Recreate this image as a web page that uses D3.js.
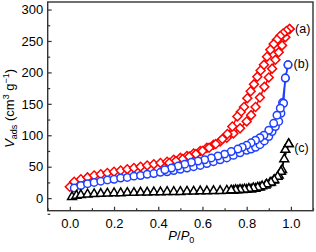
<!DOCTYPE html>
<html>
<head>
<meta charset="utf-8">
<script src="https://cdn.jsdelivr.net/npm/d3@7"></script>
<style>
  body { margin: 0; background: #fff; }
  svg text { font-family: Arial, 'Liberation Sans', sans-serif; fill: #000; }
</style>
</head>
<body>
<svg id="chart"></svg>
<script>
// sample (a): adsorption + desorption branches
const aAdsP = [0.00, 0.02, 0.05, 0.08, 0.11, 0.14, 0.17, 0.20, 0.23, 0.26, 0.29, 0.32, 0.35, 0.38, 0.41, 0.44, 0.47, 0.50, 0.53, 0.56, 0.59, 0.62, 0.65, 0.68, 0.71, 0.74, 0.77, 0.80, 0.82, 0.84, 0.86, 0.88, 0.90, 0.915, 0.93, 0.945, 0.96, 0.975, 0.994];
const aAdsV = [18, 26, 30, 33, 36, 38, 40, 42, 44, 46, 48, 50, 52, 54, 56, 58, 61, 64, 67, 71, 75, 80, 85, 90, 96, 103, 111, 122, 132, 145, 160, 177, 192, 206, 220, 232, 243, 256, 269];
const aDesP = [0.994, 0.98, 0.965, 0.952, 0.937, 0.922, 0.907, 0.892, 0.878, 0.863, 0.848, 0.833, 0.818, 0.803, 0.788, 0.773, 0.758, 0.735, 0.713, 0.69, 0.66, 0.63, 0.60, 0.57, 0.54, 0.51, 0.48, 0.45];
const aDesV = [269, 266, 262, 258, 252, 245, 236, 225, 212, 203, 193, 181, 170, 159, 145, 137, 130, 114, 102, 94, 86, 80, 75, 70, 66, 62, 59, 56];

// sample (b)
const bAdsP = [0.02, 0.05, 0.08, 0.11, 0.14, 0.17, 0.20, 0.23, 0.26, 0.29, 0.32, 0.35, 0.38, 0.41, 0.44, 0.47, 0.50, 0.53, 0.56, 0.59, 0.62, 0.65, 0.68, 0.71, 0.74, 0.77, 0.80, 0.82, 0.84, 0.86, 0.88, 0.90, 0.915, 0.93, 0.945, 0.955, 0.962, 0.975, 0.987];
const bAdsV = [16, 20, 23, 25, 27, 29, 30, 32, 33, 35, 36, 38, 39, 41, 42, 44, 46, 48, 50, 52, 55, 58, 61, 64, 68, 72, 76, 78, 81, 85, 91, 98, 106, 114, 122, 135, 152, 191, 212];
const bDesP = [0.987, 0.975, 0.967, 0.952, 0.937, 0.922, 0.90, 0.878, 0.86, 0.84, 0.82, 0.80, 0.78, 0.76, 0.73, 0.70, 0.67, 0.64, 0.61, 0.58, 0.55, 0.52, 0.49, 0.46, 0.43];
const bDesV = [212, 191, 151, 143, 132, 119, 108, 100, 96, 92, 88, 84, 81, 78, 74, 70, 67, 64, 61, 59, 57, 54, 51, 48, 45];

// sample (c)
const cAdsP = [0.01, 0.03, 0.05, 0.08, 0.11, 0.14, 0.17, 0.20, 0.23, 0.26, 0.29, 0.32, 0.35, 0.38, 0.41, 0.44, 0.47, 0.50, 0.53, 0.56, 0.59, 0.62, 0.65, 0.68, 0.71, 0.74, 0.76, 0.78, 0.80, 0.82, 0.84, 0.86, 0.885, 0.905, 0.922, 0.945, 0.96, 0.975, 0.99];
const cAdsV = [2, 4, 5, 6, 6.5, 7, 7.5, 8, 8, 8.5, 8.5, 9, 9, 9.5, 9.5, 10, 10, 10, 10.5, 10.5, 11, 11, 11.5, 11.5, 12, 12, 12.5, 13, 13.5, 14, 15, 17, 20, 24, 28, 36, 45, 77, 86];
const cDesP = [0.99, 0.97, 0.955, 0.94, 0.925, 0.91, 0.89, 0.87, 0.85, 0.83, 0.81, 0.79, 0.77, 0.75, 0.73];
const cDesV = [86, 62, 42, 34, 29, 25, 22, 19, 17, 16, 15, 14, 13.5, 13, 12.5];

const seriesLabels = ['(a)', '(b)', '(c)'];
const seriesColors = ['#ff0000', '#1f3fff', '#000000'];
const xTicks = [0.0, 0.2, 0.4, 0.6, 0.8, 1.0];
const xMinorTicks = [-0.1, 0.1, 0.3, 0.5, 0.7, 0.9, 1.1];
const yTicks = [0, 50, 100, 150, 200, 250, 300];
const yMinorTicks = [-25, 25, 75, 125, 175, 225, 275];

class IsothermPlot {

  constructor(_config, data) {
    this.config = {
      parentElement: _config.parentElement,
      containerWidth: 316,
      containerHeight: 252,
      margin: {top: 2, right: 3, bottom: 41.3, left: 47.7}
    }
    this.data = data;
    this.initVis();
  }

  initVis() {
    let vis = this;

    vis.svg = d3.select(vis.config.parentElement)
        .attr('width', vis.config.containerWidth)
        .attr('height', vis.config.containerHeight);

    vis.chart = vis.svg.append('g')
        .attr('transform', `translate(${vis.config.margin.left},${vis.config.margin.top})`);

    vis.width = vis.config.containerWidth - vis.config.margin.left - vis.config.margin.right;
    vis.height = vis.config.containerHeight - vis.config.margin.top - vis.config.margin.bottom;

    vis.xScale = d3.scaleLinear()
        .domain([-0.1, 1.1])
        .range([0, vis.width]);
    vis.yScale = d3.scaleLinear()
        .domain([-20, 312])
        .range([vis.height, 0]);

    // ticks point inward, like the original
    vis.xAxis = d3.axisBottom(vis.xScale)
        .tickValues(xTicks)
        .tickSize(-4)
        .tickPadding(8.5)
        .tickFormat(d3.format('.1f'));
    vis.xMinor = d3.axisBottom(vis.xScale)
        .tickValues(xMinorTicks)
        .tickSize(-2.5)
        .tickFormat('');
    vis.yAxis = d3.axisLeft(vis.yScale)
        .tickValues(yTicks)
        .tickSize(-4)
        .tickPadding(4.4)
        .tickFormat(d3.format('d'));
    vis.yMinor = d3.axisLeft(vis.yScale)
        .tickValues(yMinorTicks)
        .tickSize(-2.5)
        .tickFormat('');

    vis.xAxisG = vis.chart.append('g')
        .attr('class', 'axis x-axis')
        .attr('transform', `translate(0,${vis.height})`);
    vis.xMinorG = vis.chart.append('g')
        .attr('transform', `translate(0,${vis.height})`);
    vis.yAxisG = vis.chart.append('g')
        .attr('class', 'axis y-axis');
    vis.yMinorG = vis.chart.append('g');

    // axis titles
    vis.yLabel = vis.svg.append('text')
        .attr('text-anchor', 'middle')
        .attr('font-size', '13px')
        .attr('transform', `translate(13.5, ${vis.config.margin.top + vis.height / 2 + 2}) rotate(-90)`);
    vis.yLabel.append('tspan').attr('font-style', 'italic').text('V');
    vis.yLabel.append('tspan').attr('font-size', '9px').attr('dy', 3).text('ads');
    vis.yLabel.append('tspan').attr('dy', -3).text(' (cm');
    vis.yLabel.append('tspan').attr('font-size', '9px').attr('dy', -5).text('3');
    vis.yLabel.append('tspan').attr('dy', 5).text(' g');
    vis.yLabel.append('tspan').attr('font-size', '9px').attr('dy', -5).text('\u22121');
    vis.yLabel.append('tspan').attr('dy', 5).text(')');

    vis.xLabel = vis.svg.append('text')
        .attr('text-anchor', 'middle')
        .attr('font-size', '13px')
        .attr('x', vis.config.margin.left + vis.width / 2 + 1)
        .attr('y', 240);
    vis.xLabel.append('tspan').attr('font-style', 'italic').text('P');
    vis.xLabel.append('tspan').text('/');
    vis.xLabel.append('tspan').attr('font-style', 'italic').text('P');
    vis.xLabel.append('tspan').attr('font-size', '9px').attr('dy', 3).text('0');

    vis.updateVis();
  }

  updateVis() {
    let vis = this;
    vis.xValue = d => d[0];
    vis.yValue = d => d[1];
    vis.renderVis();
  }

  renderVis() {
    let vis = this;

    const line = d3.line()
        .x(d => vis.xScale(vis.xValue(d)))
        .y(d => vis.yScale(vis.yValue(d)));

    vis.data.forEach(s => {
      const g = vis.chart.append('g');
      s.branches.forEach(br => {
        g.append('path')
            .datum(br)
            .attr('fill', 'none')
            .attr('stroke', s.color)
            .attr('stroke-width', 1.5)
            .attr('d', line);
      });
      s.branches.forEach(br => {
        g.selectAll(null)
            .data(br)
            .join('path')
            .attr('d', d3.symbol().type(s.symbol).size(s.size))
            .attr('transform', d => `translate(${vis.xScale(vis.xValue(d))},${vis.yScale(vis.yValue(d))})${s.rotate ? ' rotate(45)' : ''}`)
            .attr('fill', '#fff')
            .attr('stroke', s.color)
            .attr('stroke-width', 1.5);
      });

      // series tag next to the last adsorption point
      const top = s.branches[0][s.branches[0].length - 1];
      vis.chart.append('text')
          .attr('font-size', '12.5px')
          .attr('x', vis.xScale(vis.xValue(top)) + 5.5)
          .attr('y', vis.yScale(vis.yValue(top)) + s.labelDy)
          .attr('dy', '0.35em')
          .text(s.label);
    });

    // frame
    vis.chart.append('rect')
        .attr('width', vis.width)
        .attr('height', vis.height)
        .attr('fill', 'none')
        .attr('stroke', '#333')
        .attr('stroke-width', 1.4);

    vis.xAxisG.call(vis.xAxis);
    vis.xMinorG.call(vis.xMinor);
    vis.yAxisG.call(vis.yAxis);
    vis.yMinorG.call(vis.yMinor);

    vis.chart.selectAll('.domain').remove();
    vis.chart.selectAll('.tick line')
        .attr('stroke', '#333')
        .attr('stroke-width', 1.2);
    vis.chart.selectAll('.tick text')
        .attr('font-size', '13px')
        .attr('font-family', "Arial, 'Liberation Sans', sans-serif")
        .attr('fill', '#000');
  }
}

const zip = (p, v) => p.map((x, i) => [x, v[i]]);

const series = [
  {label: seriesLabels[0], color: seriesColors[0], symbol: d3.symbolSquare, size: 40, rotate: true, labelDy: 0,
    branches: [zip(aAdsP, aAdsV), zip(aDesP, aDesV)]},
  {label: seriesLabels[1], color: seriesColors[1], symbol: d3.symbolCircle, size: 44, rotate: false, labelDy: -1.5,
    branches: [zip(bAdsP, bAdsV), zip(bDesP, bDesV)]},
  {label: seriesLabels[2], color: seriesColors[2], symbol: d3.symbolTriangle, size: 34, rotate: false, labelDy: 3.5,
    branches: [zip(cAdsP, cAdsV), zip(cDesP, cDesV)]}
];

new IsothermPlot({parentElement: '#chart'}, series);
</script>
</body>
</html>
